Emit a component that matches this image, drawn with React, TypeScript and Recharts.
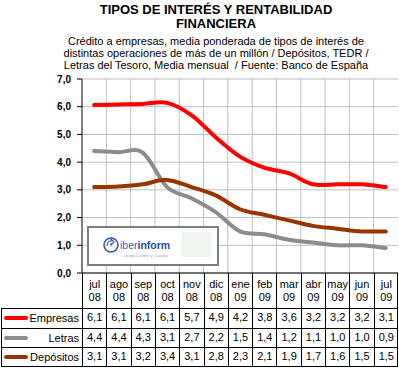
import { LineChart, Line, XAxis, YAxis, CartesianGrid } from "recharts"

const months = ["jul", "ago", "sep", "oct", "nov", "dic", "ene", "feb", "mar", "abr", "may", "jun", "jul"]
const years = ["08", "08", "08", "08", "08", "08", "09", "09", "09", "09", "09", "09", "09"]
const empresas = [6.06, 6.08, 6.1, 6.14, 5.7, 4.9, 4.2, 3.8, 3.6, 3.2, 3.2, 3.2, 3.1]
const letras = [4.4, 4.36, 4.34, 3.1, 2.7, 2.2, 1.5, 1.4, 1.2, 1.1, 1.0, 1.0, 0.9]
const depositos = [3.1, 3.12, 3.2, 3.36, 3.1, 2.8, 2.3, 2.1, 1.9, 1.7, 1.6, 1.5, 1.5]
const yTicks = [0, 1, 2, 3, 4, 5, 6, 7]

const series = [
  { key: "empresas", name: "Empresas", color: "#FF0000", values: empresas },
  { key: "letras", name: "Letras", color: "#8C8C8C", values: letras },
  { key: "depositos", name: "Depósitos", color: "#993300", values: depositos },
]

const data = months.map((m, i) => ({
  mes: m + " " + years[i],
  empresas: empresas[i],
  letras: letras[i],
  depositos: depositos[i],
}))

const fmt = (v: number) => v.toFixed(1).replace(".", ",")

// Excel-style smoothed line (Catmull-Rom)
const smooth = (context: any) => {
  let pts: [number, number][] = []
  return {
    areaStart() {},
    areaEnd() {},
    lineStart() {
      pts = []
    },
    lineEnd() {
      const n = pts.length
      if (!n) return
      context.moveTo(pts[0][0], pts[0][1])
      for (let i = 0; i < n - 1; i++) {
        const p0 = pts[i - 1] || pts[i]
        const p1 = pts[i]
        const p2 = pts[i + 1]
        const p3 = pts[i + 2] || p2
        context.bezierCurveTo(
          p1[0] + (p2[0] - p0[0]) / 6,
          p1[1] + (p2[1] - p0[1]) / 6,
          p2[0] - (p3[0] - p1[0]) / 6,
          p2[1] - (p3[1] - p1[1]) / 6,
          p2[0],
          p2[1]
        )
      }
    },
    point(x: number, y: number) {
      pts.push([+x, +y])
    },
  }
}

const W = 399
const H = 369
const plotLeft = 82
const plotRight = 398
const colW = (plotRight - plotLeft) / months.length
const font = "Arial, 'Liberation Sans', sans-serif"

export default function App() {
  const rowTop = 308
  const rowH = 19.7
  return (
    <div style={{ position: "absolute", left: 0, top: 0, width: W, height: H, background: "#fff", fontFamily: font }}>
      <div style={{ position: "absolute", left: 0, top: 3, width: 432, textAlign: "center", fontWeight: "bold", fontSize: 13, lineHeight: "14px" }}>
        TIPOS DE INTERÉS Y RENTABILIDAD
        <br />
        FINANCIERA
      </div>
      <div style={{ position: "absolute", left: 0, top: 35, width: 432, textAlign: "center", fontSize: 11, lineHeight: "12px" }}>
        Crédito a empresas, media ponderada de tipos de interés de
        <br />
        distintas operaciones de más de un millón / Depósitos, TEDR /
        <br />
        Letras del Tesoro, Media mensual&nbsp; / Fuente: Banco de España
      </div>

      <div style={{ position: "absolute", left: 0, top: 0 }}>
        <LineChart width={W} height={H} data={data} margin={{ top: 79, right: W - plotRight, left: plotLeft - 40, bottom: 61 }}>
          <CartesianGrid
            stroke="#BFBFBF"
            strokeWidth={1}
            verticalCoordinatesGenerator={({ offset }: any) => {
              const l = offset?.left ?? plotLeft
              const w = offset?.width ?? plotRight - plotLeft
              return months.slice(1).map((_, i) => l + ((i + 1) * w) / months.length)
            }}
          />
          <XAxis
            dataKey="mes"
            height={35}
            tick={false}
            tickLine={false}
            axisLine={{ stroke: "#000", strokeWidth: 1 }}
            padding={{ left: colW / 2, right: colW / 2 }}
          />
          <YAxis
            width={40}
            domain={[0, 7]}
            ticks={yTicks}
            tickFormatter={fmt}
            tickSize={5}
            tickMargin={6}
            axisLine={{ stroke: "#000" }}
            tickLine={{ stroke: "#000" }}
            tick={{ fill: "#000", fontSize: 10, fontWeight: "bold", fontFamily: font }}
          />
          {series.map((s) => (
            <Line
              key={s.key}
              type={smooth as any}
              dataKey={s.key}
              name={s.name}
              stroke={s.color}
              strokeWidth={4}
              strokeLinecap="round"
              dot={false}
              isAnimationActive={false}
            />
          ))}
        </LineChart>
      </div>

      {/* logo box */}
      <div style={{ position: "absolute", left: 87, top: 226, width: 128, height: 36, border: "2px solid #7F7F7F", background: "#fff" }}>
        <svg width={128} height={36} style={{ position: "absolute", left: 0, top: 0 }}>
          <circle cx={22} cy={17} r={7} fill="none" stroke="#3458A8" strokeWidth={1.6} />
          <path d="M18 18 q0 -5 4 -5 l0 -2 l3 3 l-3 3 l0 -2" fill="none" stroke="#3458A8" strokeWidth={1.2} />
          <text x={31} y={21} fontSize={10.5} fontFamily={font} fill="#3A62B6">
            iber<tspan fontWeight="bold" fill="#2B4B9A">inform</tspan>
          </text>
          <text x={35} y={29} fontSize={4} fontFamily={font} fill="#8AA4D6">Grupo Crédito y Caución</text>
          <rect x={93} y={4} width={29} height={25} fill="#EEF5EE" />
        </svg>
      </div>

      {/* table: header */}
      {months.map((m, i) => (
        <div
          key={"h" + i}
          style={{
            position: "absolute",
            left: plotLeft + i * colW,
            top: 273,
            width: colW,
            height: rowTop - 273,
            borderLeft: "1px solid #000",
            boxSizing: "border-box",
            textAlign: "center",
            fontSize: 11,
            lineHeight: "13px",
            paddingTop: 5,
          }}
        >
          {m}
          <br />
          {years[i]}
        </div>
      ))}
      <div style={{ position: "absolute", left: plotRight - 1, top: 273, width: 1, height: rowTop - 273, background: "#000" }} />

      {series.map((s, r) => (
        <div key={s.key}>
          <div
            style={{
              position: "absolute",
              left: 1,
              top: rowTop + r * rowH,
              width: plotRight - 1,
              height: rowH,
              borderTop: "1px solid #000",
              borderLeft: "1px solid #000",
              borderRight: "1px solid #000",
              borderBottom: r === series.length - 1 ? "1px solid #000" : "none",
              boxSizing: "border-box",
            }}
          />
          <div style={{ position: "absolute", left: 4, top: rowTop + r * rowH + rowH / 2 - 2, width: 24, height: 4, borderRadius: 2, background: s.color }} />
          <div style={{ position: "absolute", left: 26, top: rowTop + r * rowH + 3, width: 53, textAlign: "right", fontSize: 11, lineHeight: "14px" }}>
            {s.name}
          </div>
          {s.values.map((v, i) => (
            <div
              key={i}
              style={{
                position: "absolute",
                left: plotLeft + i * colW,
                top: rowTop + r * rowH,
                width: colW,
                height: rowH,
                borderLeft: "1px solid #000",
                boxSizing: "border-box",
                textAlign: "center",
                fontSize: 11,
                lineHeight: rowH + "px",
              }}
            >
              {fmt(v)}
            </div>
          ))}
        </div>
      ))}
    </div>
  )
}
